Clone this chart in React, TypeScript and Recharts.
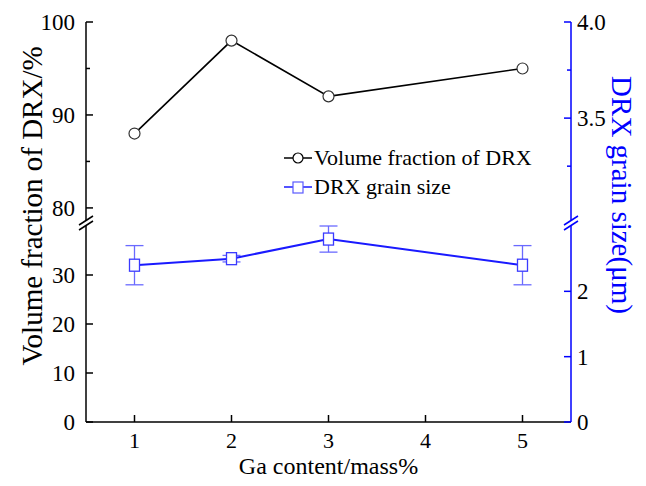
import React from "react";
import { ComposedChart, Line, XAxis, YAxis, ErrorBar, Legend } from "recharts";

// Ga content (mass%)
const gaContent = [1, 2, 3, 5];
// volume fraction of DRX (%), left axis, upper segment
const volumeFraction = [88, 98, 92, 95];
// DRX grain size (um), right axis, lower segment
const grainSize = [2.4, 2.5, 2.8, 2.4];
const grainSizeErr = [0.3, 0.05, 0.2, 0.3];

const xTicks = [1, 2, 3, 4, 5];
const leftTopTicks = [80, 85, 90, 95, 100];
const leftTopLabels = [80, 90, 100];
const leftBottomTicks = [0, 10, 20, 30];
const rightTopTicks = [3.25, 3.5, 3.75, 4.0];
const rightTopLabels = [3.5, 4.0];
const rightBottomTicks = [0, 1, 2];

const legendItems = [
    { name: "Volume fraction of DRX", color: "#000000", shape: "circle" },
    { name: "DRX grain size", color: "#1a1aff", shape: "square" },
];

const data = gaContent.map((x, i) => ({
    x,
    volume: volumeFraction[i],
    grain: grainSize[i],
    grainErr: grainSizeErr[i],
}));

const FONT = '"Liberation Serif", "Times New Roman", serif';
const BLUE = "#0000ff";
const W = 646;
const LEFT_W = 86;
const RIGHT_W = 75;

const YTick = (props: any) => {
    const { x, y, payload, side, labels, color, decimals } = props;
    const v = payload.value;
    const major = labels ? labels.includes(v) : true;
    const dir = side === "left" ? 1 : -1;
    const len = major ? 7 : 4;
    return (
        <g>
            <line x1={x} y1={y} x2={x + dir * len} y2={y} stroke={color} strokeWidth={1.5} />
            {major && (
                <text
                    x={side === "left" ? x - 11 : x + 6}
                    y={y}
                    dy="0.35em"
                    textAnchor={side === "left" ? "end" : "start"}
                    style={{ fontFamily: FONT, fontSize: 23 }}
                    fill="#000"
                >
                    {decimals ? v.toFixed(decimals) : v}
                </text>
            )}
        </g>
    );
};

const XTick = (props: any) => {
    const { x, y, payload } = props;
    return (
        <g>
            <line x1={x} y1={y} x2={x} y2={y - 7} stroke="#000" strokeWidth={1.5} />
            <text
                x={x}
                y={y + 18}
                dy="0.35em"
                textAnchor="middle"
                style={{ fontFamily: FONT, fontSize: 22 }}
                fill="#000"
            >
                {payload.value}
            </text>
        </g>
    );
};

const SquareDot = (props: any) => {
    const { cx, cy, index } = props;
    if (cx == null || cy == null) return null;
    return (
        <rect
            key={`sq-${index}`}
            x={cx - 5}
            y={cy - 6}
            width={10}
            height={12}
            fill="#fff"
            stroke="#3a3aff"
            strokeWidth={1.3}
        />
    );
};

const LegendContent = () => (
    <div style={{ fontFamily: FONT, fontSize: 22, lineHeight: "29px", color: "#000" }}>
        {legendItems.map((item) => (
            <div key={item.name} style={{ display: "flex", alignItems: "center", whiteSpace: "nowrap" }}>
                <svg width={30} height={16} style={{ marginRight: 1 }}>
                    <line x1={1} y1={8} x2={29} y2={8} stroke={item.color} strokeWidth={1.5} />
                    {item.shape === "circle" ? (
                        <circle cx={15} cy={8} r={5} fill="#fff" stroke={item.color} strokeWidth={1.2} />
                    ) : (
                        <rect x={10} y={3} width={10} height={11} fill="#fff" stroke="#5a5aff" strokeWidth={1.2} />
                    )}
                </svg>
                <span style={{ fontFamily: FONT }}>{item.name}</span>
            </div>
        ))}
    </div>
);

const breakMarks = (x: number, color: string) => (
    <g stroke={color} strokeWidth={1.5}>
        <line x1={x - 7} y1={225} x2={x + 7} y2={216} />
        <line x1={x - 7} y1={230} x2={x + 7} y2={221} />
    </g>
);

export default function App() {
    return (
        <div style={{ position: "absolute", left: 0, top: 0, width: W, height: 486, background: "#fff" }}>
            <div style={{ position: "absolute", left: 0, top: 0 }}>
                <ComposedChart width={W} height={220} data={data} margin={{ top: 22, right: 0, bottom: 0, left: 0 }}>
                    <XAxis
                        dataKey="x"
                        type="number"
                        domain={[0.5, 5.5]}
                        orientation="top"
                        height={0}
                        tick={false}
                        tickLine={false}
                        axisLine={{ stroke: "#000", strokeWidth: 1.5 }}
                    />
                    <YAxis
                        yAxisId="left"
                        width={LEFT_W}
                        domain={[78.7, 100]}
                        ticks={leftTopTicks}
                        allowDataOverflow
                        tickLine={false}
                        tickSize={0}
                        tickMargin={0}
                        axisLine={{ stroke: "#000", strokeWidth: 1.5 }}
                        tick={(p: any) => <YTick {...p} side="left" labels={leftTopLabels} color="#000" />}
                    />
                    <YAxis
                        yAxisId="right"
                        orientation="right"
                        width={RIGHT_W}
                        domain={[2.97, 4]}
                        ticks={rightTopTicks}
                        allowDataOverflow
                        tickLine={false}
                        tickSize={0}
                        tickMargin={0}
                        axisLine={{ stroke: BLUE, strokeWidth: 1.5 }}
                        tick={(p: any) => (
                            <YTick {...p} side="right" labels={rightTopLabels} color={BLUE} decimals={1} />
                        )}
                    />
                    <Line
                        yAxisId="left"
                        dataKey="volume"
                        stroke="#000"
                        strokeWidth={1.6}
                        dot={{ r: 5.5, fill: "#fff", stroke: "#333", strokeWidth: 1.2 }}
                        isAnimationActive={false}
                    />
                    <Legend
                        layout="vertical"
                        align="center"
                        verticalAlign="middle"
                        content={<LegendContent />}
                        wrapperStyle={{ left: 283, top: 143, width: "auto", height: "auto" }}
                    />
                </ComposedChart>
            </div>
            <div style={{ position: "absolute", left: 0, top: 0 }}>
                <ComposedChart width={W} height={486} data={data} margin={{ top: 226, right: 0, bottom: 0, left: 0 }}>
                    <XAxis
                        dataKey="x"
                        type="number"
                        domain={[0.5, 5.5]}
                        ticks={xTicks}
                        height={64}
                        tickLine={false}
                        tickSize={0}
                        tickMargin={0}
                        axisLine={{ stroke: "#000", strokeWidth: 1.5 }}
                        tick={(p: any) => <XTick {...p} />}
                    />
                    <YAxis
                        yAxisId="left"
                        width={LEFT_W}
                        domain={[0, 40]}
                        ticks={leftBottomTicks}
                        allowDataOverflow
                        tickLine={false}
                        tickSize={0}
                        tickMargin={0}
                        axisLine={{ stroke: "#000", strokeWidth: 1.5 }}
                        tick={(p: any) => <YTick {...p} side="left" color="#000" />}
                    />
                    <YAxis
                        yAxisId="right"
                        orientation="right"
                        width={RIGHT_W}
                        domain={[0, 3]}
                        ticks={rightBottomTicks}
                        allowDataOverflow
                        tickLine={false}
                        tickSize={0}
                        tickMargin={0}
                        axisLine={{ stroke: BLUE, strokeWidth: 1.5 }}
                        tick={(p: any) => <YTick {...p} side="right" color={BLUE} />}
                    />
                    <Line
                        yAxisId="right"
                        dataKey="grain"
                        stroke="#1a1aff"
                        strokeWidth={2}
                        dot={(p: any) => <SquareDot {...p} />}
                        isAnimationActive={false}
                    >
                        <ErrorBar dataKey="grainErr" direction="y" width={9} stroke="#6a6aff" strokeWidth={1.3} />
                    </Line>
                </ComposedChart>
            </div>
            <svg
                width={W}
                height={486}
                style={{ position: "absolute", left: 0, top: 0, pointerEvents: "none" }}
            >
                {breakMarks(LEFT_W, "#000")}
                {breakMarks(W - RIGHT_W, BLUE)}
                <text
                    transform="translate(32,206) rotate(-90)"
                    textAnchor="middle"
                    dy="0.35em"
                    style={{ fontFamily: FONT, fontSize: 29 }}
                    fill="#000"
                >
                    Volume fraction of DRX/%
                </text>
                <text
                    transform="translate(622,195) rotate(90)"
                    textAnchor="middle"
                    dy="0.35em"
                    style={{ fontFamily: FONT, fontSize: 29 }}
                    fill={BLUE}
                >
                    DRX grain size(μm)
                </text>
                <text
                    x={(LEFT_W + W - RIGHT_W) / 2}
                    y={466}
                    dy="0.35em"
                    textAnchor="middle"
                    style={{ fontFamily: FONT, fontSize: 24 }}
                    fill="#000"
                >
                    Ga content/mass%
                </text>
            </svg>
        </div>
    );
}
